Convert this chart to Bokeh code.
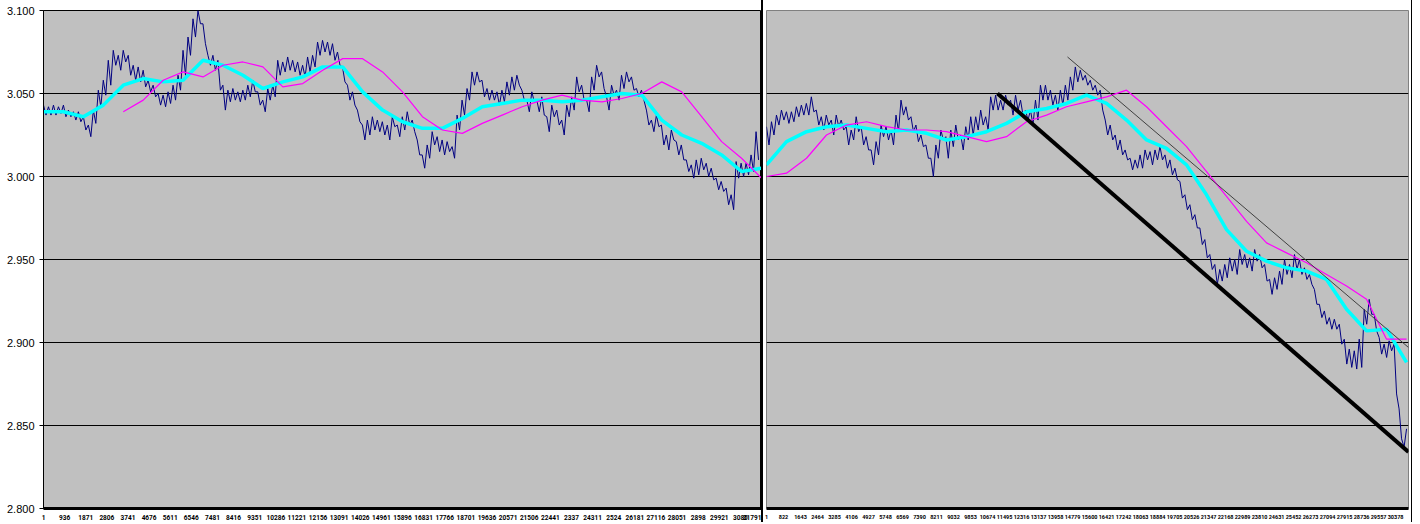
import numpy as np
from bokeh.plotting import figure
from bokeh.models import Range1d, FixedTicker, Div, NumeralTickFormatter
from bokeh.layouts import row
from bokeh.embed import file_html
from bokeh.resources import INLINE

# ---------------- data: left window ----------------
left_n = 31791
left_last_sample = 31660
# price readings (alternating local high / low)
left_price = [
    3.043, 3.037, 3.042, 3.037, 3.043, 3.037, 3.042, 3.038, 3.043, 3.036,
    3.040, 3.036, 3.039, 3.034, 3.039, 3.033, 3.036, 3.028, 3.031, 3.024,
    3.040, 3.032, 3.052, 3.042, 3.058, 3.049, 3.070, 3.055, 3.076, 3.067,
    3.073, 3.064, 3.076, 3.069, 3.073, 3.061, 3.067, 3.058, 3.066, 3.057,
    3.064, 3.054, 3.058, 3.051, 3.055, 3.048, 3.050, 3.043, 3.049, 3.042,
    3.051, 3.044, 3.055, 3.046, 3.061, 3.052, 3.076, 3.061, 3.084, 3.073,
    3.095, 3.084, 3.100, 3.092, 3.092, 3.080, 3.073, 3.067, 3.073, 3.064,
    3.070, 3.052, 3.055, 3.040, 3.052, 3.045, 3.053, 3.046, 3.051, 3.045,
    3.052, 3.046, 3.055, 3.048, 3.058, 3.051, 3.051, 3.043, 3.046, 3.039,
    3.053, 3.046, 3.055, 3.048, 3.070, 3.061, 3.069, 3.063, 3.072, 3.064,
    3.070, 3.063, 3.069, 3.061, 3.067, 3.060, 3.072, 3.063, 3.073, 3.066,
    3.081, 3.073, 3.082, 3.075, 3.081, 3.073, 3.080, 3.070, 3.075, 3.067,
    3.066, 3.057, 3.055, 3.046, 3.051, 3.043, 3.040, 3.033, 3.031, 3.022,
    3.034, 3.025, 3.036, 3.028, 3.034, 3.027, 3.033, 3.025, 3.031, 3.022,
    3.036, 3.030, 3.031, 3.024, 3.036, 3.028, 3.039, 3.031, 3.034, 3.027,
    3.022, 3.013, 3.013, 3.005, 3.019, 3.011, 3.027, 3.019, 3.024, 3.015,
    3.022, 3.013, 3.021, 3.015, 3.018, 3.011, 3.037, 3.028, 3.046, 3.037,
    3.053, 3.046, 3.063, 3.055, 3.063, 3.057, 3.058, 3.048, 3.053, 3.046,
    3.052, 3.046, 3.051, 3.043, 3.052, 3.045, 3.057, 3.049, 3.060, 3.052,
    3.061, 3.055, 3.052, 3.046, 3.046, 3.039, 3.051, 3.045, 3.046, 3.039,
    3.048, 3.037, 3.036, 3.027, 3.043, 3.036, 3.040, 3.031, 3.034, 3.025,
    3.043, 3.036, 3.048, 3.040, 3.060, 3.051, 3.055, 3.046, 3.046, 3.039,
    3.060, 3.052, 3.067, 3.060, 3.063, 3.053, 3.048, 3.040, 3.055, 3.049,
    3.052, 3.046, 3.061, 3.053, 3.063, 3.057, 3.060, 3.052, 3.053, 3.048,
    3.052, 3.046, 3.040, 3.031, 3.034, 3.027, 3.037, 3.030, 3.031, 3.019,
    3.025, 3.016, 3.028, 3.022, 3.021, 3.013, 3.019, 3.010, 3.010, 3.003,
    3.007, 2.999, 3.010, 3.001, 3.011, 3.004, 3.008, 3.000, 3.005, 2.998,
    2.999, 2.992, 2.997, 2.991, 2.993, 2.983, 2.989, 2.980, 3.009, 2.999,
    3.008, 3.000, 3.008, 3.001, 3.013, 3.003, 3.027, 3.010,
]
left_fast_ma = [
    3.039, 3.039, 3.036, 3.043, 3.055, 3.059, 3.057, 3.058, 3.070, 3.067,
    3.061, 3.053, 3.057, 3.060, 3.066, 3.066, 3.051, 3.040, 3.033, 3.029,
    3.029, 3.035, 3.042, 3.044, 3.046, 3.046, 3.045, 3.046, 3.048, 3.050,
    3.049, 3.034, 3.025, 3.020, 3.013, 3.003, 3.005,
]
left_slow_ma = [
    None, None, None, None, 3.039, 3.046, 3.058, 3.063, 3.060, 3.067,
    3.069, 3.066, 3.054, 3.056, 3.064, 3.071, 3.071, 3.063, 3.051, 3.036,
    3.028, 3.026, 3.032, 3.037, 3.042, 3.046, 3.049, 3.046, 3.045, 3.047,
    3.050, 3.057, 3.051, 3.036, 3.021, 3.011, 2.999,
]
left_ticks = [1, 936, 1871, 2806, 3741, 4676, 5611, 6546, 7481, 8416, 9351,
              10286, 11221, 12156, 13091, 14026, 14961, 15896, 16831, 17766,
              18701, 19636, 20571, 21506, 22441, 23376, 24311, 25246, 26181,
              27116, 28051, 28986, 29921, 30856, 31791]
left_tick_labels = ["1", "936", "1871", "2806", "3741", "4676", "5611", "6546",
                    "7481", "8416", "9351", "10286", "11221", "12156", "13091",
                    "14026", "14961", "15896", "16831", "17766", "18701", "19636",
                    "20571", "21506", "22441", "2337", "24311", "2524", "26181",
                    "27116", "28051", "2898", "29921", "3085", "31791"]

# ---------------- data: right window ----------------
right_n = 31000
right_last_sample = 30906
right_price = [
    3.030, 3.019, 3.033, 3.025, 3.037, 3.031, 3.040, 3.034, 3.039, 3.032,
    3.039, 3.033, 3.042, 3.036, 3.043, 3.037, 3.044, 3.037, 3.048, 3.039,
    3.040, 3.031, 3.036, 3.028, 3.037, 3.031, 3.034, 3.025, 3.037, 3.030,
    3.034, 3.028, 3.030, 3.019, 3.028, 3.022, 3.036, 3.027, 3.030, 3.019,
    3.024, 3.016, 3.016, 3.007, 3.021, 3.013, 3.031, 3.024, 3.030, 3.022,
    3.028, 3.019, 3.037, 3.027, 3.046, 3.037, 3.042, 3.034, 3.036, 3.027,
    3.031, 3.021, 3.025, 3.018, 3.019, 3.011, 3.011, 3.000, 3.019, 3.011,
    3.028, 3.022, 3.024, 3.011, 3.028, 3.018, 3.031, 3.022, 3.025, 3.016,
    3.030, 3.022, 3.036, 3.025, 3.036, 3.028, 3.040, 3.031, 3.036, 3.028,
    3.048, 3.040, 3.049, 3.040, 3.046, 3.040, 3.049, 3.043, 3.046, 3.037,
    3.049, 3.040, 3.046, 3.037, 3.040, 3.034, 3.040, 3.031, 3.046, 3.034,
    3.055, 3.046, 3.055, 3.046, 3.052, 3.043, 3.049, 3.040, 3.052, 3.043,
    3.055, 3.046, 3.060, 3.052, 3.066, 3.057, 3.064, 3.058, 3.061, 3.055,
    3.058, 3.052, 3.055, 3.049, 3.052, 3.040, 3.034, 3.025, 3.031, 3.022,
    3.025, 3.016, 3.022, 3.013, 3.016, 3.010, 3.011, 3.004, 3.010, 3.005,
    3.013, 3.005, 3.016, 3.010, 3.015, 3.007, 3.016, 3.010, 3.018, 3.010,
    3.013, 3.005, 3.010, 3.001, 3.005, 2.998, 2.997, 2.987, 2.989, 2.980,
    2.983, 2.974, 2.977, 2.969, 2.969, 2.959, 2.962, 2.951, 2.953, 2.944,
    2.947, 2.935, 2.944, 2.937, 2.947, 2.939, 2.951, 2.943, 2.950, 2.941,
    2.956, 2.947, 2.953, 2.945, 2.951, 2.943, 2.956, 2.949, 2.953, 2.945,
    2.947, 2.937, 2.938, 2.929, 2.939, 2.932, 2.943, 2.935, 2.950, 2.941,
    2.947, 2.939, 2.953, 2.944, 2.950, 2.941, 2.945, 2.938, 2.941, 2.935,
    2.932, 2.923, 2.923, 2.915, 2.919, 2.911, 2.915, 2.908, 2.914, 2.908,
    2.911, 2.899, 2.902, 2.887, 2.896, 2.885, 2.895, 2.884, 2.902, 2.885,
    2.920, 2.911, 2.926, 2.917, 2.917, 2.907, 2.903, 2.893, 2.899, 2.891,
    2.901, 2.895, 2.899, 2.869, 2.860, 2.842, 2.837, 2.848,
]
right_fast_ma = [
    3.007, 3.021, 3.027, 3.030, 3.031, 3.029, 3.027, 3.028, 3.026, 3.022,
    3.024, 3.027, 3.032, 3.039, 3.041, 3.044, 3.049, 3.044, 3.034, 3.022,
    3.017, 3.007, 2.989, 2.968, 2.955, 2.949, 2.945, 2.943, 2.938, 2.920,
    2.907, 2.908, 2.888,
]
right_slow_ma = [
    3.000, 3.002, 3.011, 3.025, 3.031, 3.033, 3.030, 3.028, 3.028, 3.027,
    3.024, 3.021, 3.024, 3.033, 3.037, 3.042, 3.045, 3.048, 3.052, 3.042,
    3.030, 3.018, 3.003, 2.988, 2.973, 2.960, 2.954, 2.948, 2.941, 2.934,
    2.926, 2.902, 2.902,
]
right_trend_thick_x = [11155, 31000]
right_trend_thick_y = [3.050, 2.834]
right_trend_thin_x = [14535, 31000]
right_trend_thin_y = [3.072, 2.897]
right_ticks = [1, 822, 1643, 2464, 3285, 4106, 4927, 5748, 6569, 7390, 8211,
               9032, 9853, 10674, 11495, 12316, 13137, 13958, 14779, 15600,
               16421, 17242, 18063, 18884, 19705, 20526, 21347, 22168, 22989,
               23810, 24631, 25452, 26273, 27094, 27915, 28736, 29557, 30378]
right_tick_labels = [str(t) for t in right_ticks]

y_ticks = [2.80, 2.85, 2.90, 2.95, 3.00, 3.05, 3.10]

# ---------------- styles ----------------
BG = "#C0C0C0"
NAVY = "#000080"
CYAN = "#00FFFF"
MAGENTA = "#FF00FF"
H = 522


def nan_list(vals):
    return [np.nan if v is None else v for v in vals]


def style_xaxis(p, ticks, labels, size):
    ax = p.xaxis[0]
    ax.ticker = FixedTicker(ticks=ticks)
    ax.major_label_overrides = {t: l for t, l in zip(ticks, labels)}
    ax.axis_line_color = "black"
    ax.axis_line_width = 3
    ax.major_tick_out = 0
    ax.major_tick_in = 0
    ax.minor_tick_out = 0
    ax.minor_tick_in = 0
    ax.major_label_standoff = 6
    ax.major_label_text_font = "Roboto"
    ax.major_label_text_font_style = "bold"
    ax.major_label_text_font_size = size
    ax.major_label_text_color = "black"
    p.xgrid.visible = False
    p.ygrid.ticker = FixedTicker(ticks=y_ticks)
    p.ygrid.grid_line_color = "black"
    p.ygrid.grid_line_width = 1


# ---------------- left figure ----------------
left = figure(width=761, height=H, x_range=Range1d(1, left_n), y_range=Range1d(2.8, 3.1),
              output_backend="svg", toolbar_location=None,
              min_border_left=43, min_border_right=0, min_border_top=10, min_border_bottom=14,
              background_fill_color=BG, border_fill_color="white",
              outline_line_color="black", outline_line_width=1)
style_xaxis(left, left_ticks, left_tick_labels, "6.5px")
ya = left.yaxis[0]
ya.ticker = FixedTicker(ticks=y_ticks)
ya.formatter = NumeralTickFormatter(format="0.000")
ya.axis_line_color = "black"
ya.major_tick_out = 4
ya.major_tick_in = 0
ya.minor_tick_out = 0
ya.minor_tick_in = 0
ya.major_label_standoff = 5
ya.major_label_text_font = "Liberation Sans"
ya.major_label_text_font_size = "11px"
ya.major_label_text_color = "black"

lx = np.linspace(1, left_last_sample, len(left_price))
left.line(lx, left_price, line_color=NAVY, line_width=1)
mx = np.linspace(1, left_n, len(left_fast_ma))
left.line(mx, left_fast_ma, line_color=CYAN, line_width=3.5)
left.line(mx, nan_list(left_slow_ma), line_color=MAGENTA, line_width=1.2)

# ---------------- right figure ----------------
right = figure(width=648, height=H, x_range=Range1d(1, right_n), y_range=Range1d(2.8, 3.1),
               output_backend="svg", toolbar_location=None,
               min_border_left=3, min_border_right=3, min_border_top=10, min_border_bottom=14,
               background_fill_color=BG, border_fill_color="white",
               outline_line_color="#808080", outline_line_width=1)
right.yaxis.visible = False
style_xaxis(right, right_ticks, right_tick_labels, "5.5px")

rx = np.linspace(1, right_last_sample, len(right_price))
right.line(rx, right_price, line_color=NAVY, line_width=1)
rmx = np.linspace(1, right_last_sample, len(right_fast_ma))
right.line(rmx, right_fast_ma, line_color=CYAN, line_width=3.5)
right.line(rmx, right_slow_ma, line_color=MAGENTA, line_width=1.2)
right.line(right_trend_thin_x, right_trend_thin_y, line_color="#404040", line_width=1)
right.line(right_trend_thick_x, right_trend_thick_y, line_color="black", line_width=4)

sep = Div(text="", width=2, height=H, margin=0, styles={"background-color": "black"})
sep2 = Div(text="", width=1, height=H, margin=0, styles={"background-color": "black"})

layout = row(left, sep, right, sep2, spacing=0)
open("out.html", "w").write(file_html(layout, INLINE))
